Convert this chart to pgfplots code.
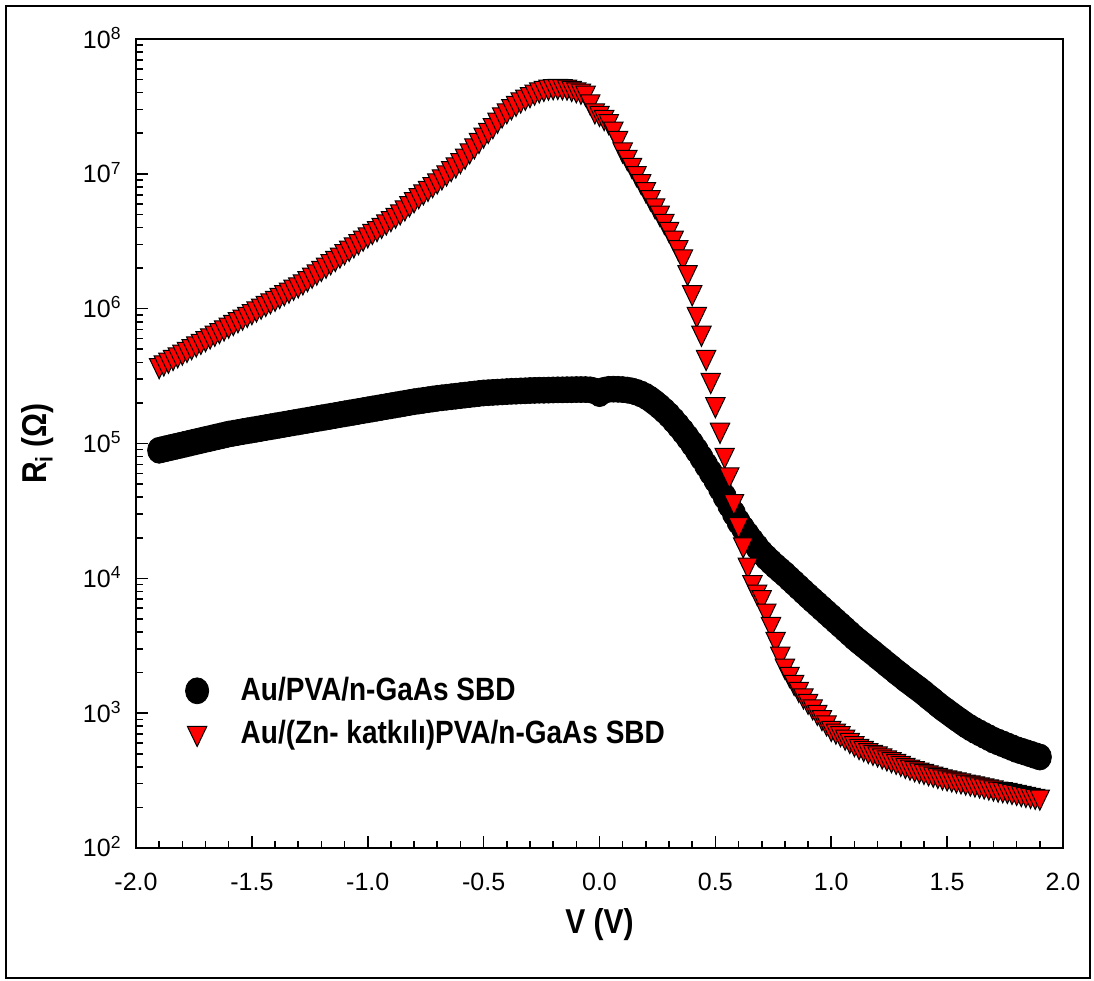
\documentclass[border=0pt]{standalone}
\usepackage{fontspec}
\setmainfont{Liberation Sans}
\usepackage{graphicx}
\usepackage{pgfplots}
\usepackage{pgfplotstable}
\pgfplotsset{compat=1.18}

\newcommand\vs[1]{\scalebox{1}[1.15]{#1}}

% Au/PVA/n-GaAs SBD
\pgfplotstableread{
V R
-1.90 8.91e4
-1.88 9.08e4
-1.86 9.25e4
-1.84 9.42e4
-1.82 9.59e4
-1.80 9.77e4
-1.78 9.95e4
-1.76 1.014e5
-1.74 1.033e5
-1.72 1.052e5
-1.70 1.072e5
-1.68 1.091e5
-1.66 1.112e5
-1.64 1.132e5
-1.62 1.153e5
-1.60 1.175e5
-1.58 1.191e5
-1.56 1.208e5
-1.54 1.225e5
-1.52 1.242e5
-1.50 1.259e5
-1.48 1.276e5
-1.46 1.294e5
-1.44 1.312e5
-1.42 1.330e5
-1.40 1.349e5
-1.38 1.368e5
-1.36 1.387e5
-1.34 1.406e5
-1.32 1.426e5
-1.30 1.445e5
-1.28 1.466e5
-1.26 1.486e5
-1.24 1.507e5
-1.22 1.528e5
-1.20 1.549e5
-1.18 1.570e5
-1.16 1.592e5
-1.14 1.614e5
-1.12 1.637e5
-1.10 1.660e5
-1.08 1.683e5
-1.06 1.706e5
-1.04 1.730e5
-1.02 1.754e5
-1.00 1.778e5
-0.98 1.803e5
-0.96 1.828e5
-0.94 1.854e5
-0.92 1.879e5
-0.90 1.905e5
-0.88 1.932e5
-0.86 1.959e5
-0.84 1.986e5
-0.82 2.014e5
-0.80 2.042e5
-0.78 2.065e5
-0.76 2.089e5
-0.74 2.113e5
-0.72 2.138e5
-0.70 2.163e5
-0.68 2.183e5
-0.66 2.203e5
-0.64 2.223e5
-0.62 2.244e5
-0.60 2.265e5
-0.58 2.286e5
-0.56 2.307e5
-0.54 2.328e5
-0.52 2.350e5
-0.50 2.371e5
-0.48 2.382e5
-0.46 2.393e5
-0.44 2.404e5
-0.42 2.415e5
-0.40 2.427e5
-0.38 2.438e5
-0.36 2.443e5
-0.34 2.455e5
-0.32 2.460e5
-0.30 2.472e5
-0.28 2.477e5
-0.26 2.483e5
-0.24 2.483e5
-0.22 2.489e5
-0.20 2.495e5
-0.18 2.500e5
-0.16 2.500e5
-0.14 2.506e5
-0.12 2.506e5
-0.10 2.512e5
-0.08 2.512e5
-0.06 2.512e5
-0.04 2.500e5
-0.02 2.455e5
0.00 2.344e5
0.02 2.483e5
0.04 2.523e5
0.06 2.529e5
0.08 2.523e5
0.10 2.512e5
0.12 2.489e5
0.14 2.455e5
0.16 2.399e5
0.18 2.328e5
0.20 2.239e5
0.22 2.128e5
0.24 2.004e5
0.26 1.879e5
0.28 1.750e5
0.30 1.622e5
0.32 1.486e5
0.34 1.355e5
0.36 1.230e5
0.38 1.109e5
0.40 9.95e4
0.42 8.87e4
0.44 7.85e4
0.46 6.92e4
0.48 6.10e4
0.50 5.37e4
0.52 4.66e4
0.54 4.04e4
0.56 3.50e4
0.58 3.03e4
0.60 2.63e4
0.62 2.34e4
0.64 2.10e4
0.66 1.89e4
0.68 1.71e4
0.70 1.549e4
0.72 1.429e4
0.74 1.324e4
0.76 1.230e4
0.78 1.148e4
0.80 1.072e4
0.82 9.95e3
0.84 9.25e3
0.86 8.59e3
0.88 7.98e3
0.90 7.41e3
0.92 6.90e3
0.94 6.43e3
0.96 5.98e3
0.98 5.57e3
1.00 5.19e3
1.02 4.83e3
1.04 4.50e3
1.06 4.19e3
1.08 3.90e3
1.10 3.63e3
1.12 3.40e3
1.14 3.19e3
1.16 2.99e3
1.18 2.81e3
1.20 2.63e3
1.22 2.47e3
1.24 2.31e3
1.26 2.17e3
1.28 2.03e3
1.30 1.91e3
1.32 1.79e3
1.34 1.69e3
1.36 1.59e3
1.38 1.50e3
1.40 1.41e3
1.42 1.32e3
1.44 1.24e3
1.46 1.16e3
1.48 1.09e3
1.50 1.03e3
1.52 971
1.54 916
1.56 867
1.58 820
1.60 780
1.62 745
1.64 714
1.66 685
1.68 658
1.70 631
1.72 611
1.74 592
1.76 573
1.78 555
1.80 537
1.82 524
1.84 511
1.86 498
1.88 485
1.90 473
}\pvadata

% Au/(Zn- katkili)PVA/n-GaAs SBD
\pgfplotstableread{
V R
-1.90 3.80e5
-1.88 3.98e5
-1.86 4.17e5
-1.84 4.37e5
-1.82 4.57e5
-1.80 4.79e5
-1.78 5.01e5
-1.76 5.25e5
-1.74 5.50e5
-1.72 5.75e5
-1.70 6.03e5
-1.68 6.31e5
-1.66 6.61e5
-1.64 6.92e5
-1.62 7.24e5
-1.60 7.59e5
-1.58 7.94e5
-1.56 8.32e5
-1.54 8.71e5
-1.52 9.12e5
-1.50 9.55e5
-1.48 1.00e6
-1.46 1.05e6
-1.44 1.10e6
-1.42 1.15e6
-1.40 1.20e6
-1.38 1.26e6
-1.36 1.32e6
-1.34 1.38e6
-1.32 1.45e6
-1.30 1.51e6
-1.28 1.59e6
-1.26 1.68e6
-1.24 1.78e6
-1.22 1.88e6
-1.20 2.00e6
-1.18 2.11e6
-1.16 2.24e6
-1.14 2.37e6
-1.12 2.51e6
-1.10 2.66e6
-1.08 2.82e6
-1.06 2.99e6
-1.04 3.16e6
-1.02 3.35e6
-1.00 3.55e6
-0.98 3.76e6
-0.96 3.95e6
-0.94 4.17e6
-0.92 4.42e6
-0.90 4.68e6
-0.88 4.95e6
-0.86 5.25e6
-0.84 5.62e6
-0.82 6.03e6
-0.80 6.46e6
-0.78 6.92e6
-0.76 7.38e6
-0.74 7.85e6
-0.72 8.36e6
-0.70 8.91e6
-0.68 9.55e6
-0.66 1.02e7
-0.64 1.10e7
-0.62 1.17e7
-0.60 1.26e7
-0.58 1.36e7
-0.56 1.49e7
-0.54 1.62e7
-0.52 1.78e7
-0.50 1.95e7
-0.48 2.11e7
-0.46 2.29e7
-0.44 2.51e7
-0.42 2.75e7
-0.40 2.95e7
-0.38 3.16e7
-0.36 3.35e7
-0.34 3.55e7
-0.32 3.72e7
-0.30 3.89e7
-0.28 4.06e7
-0.26 4.22e7
-0.24 4.32e7
-0.22 4.42e7
-0.20 4.45e7
-0.18 4.47e7
-0.16 4.45e7
-0.14 4.42e7
-0.12 4.32e7
-0.10 4.22e7
-0.08 4.12e7
-0.06 3.98e7
-0.04 3.43e7
-0.02 2.95e7
0.00 2.82e7
0.02 2.63e7
0.04 2.45e7
0.06 2.16e7
0.08 1.84e7
0.10 1.51e7
0.12 1.33e7
0.14 1.16e7
0.16 1.01e7
0.18 8.81e6
0.20 7.67e6
0.22 6.68e6
0.24 5.82e6
0.26 5.13e6
0.28 4.47e6
0.30 3.89e6
0.32 3.35e6
0.34 2.85e6
0.36 2.43e6
0.38 1.86e6
0.40 1.32e6
0.42 9.12e5
0.44 6.61e5
0.46 4.37e5
0.48 2.95e5
0.50 1.95e5
0.52 1.26e5
0.54 8.22e4
0.56 5.89e4
0.58 3.72e4
0.60 2.51e4
0.62 1.78e4
0.64 1.26e4
0.66 9.33e3
0.68 7.94e3
0.70 7.24e3
0.72 5.75e3
0.74 4.57e3
0.76 3.55e3
0.78 2.75e3
0.80 2.24e3
0.82 1.95e3
0.84 1.70e3
0.86 1.51e3
0.88 1.35e3
0.90 1.23e3
0.92 1.12e3
0.94 1.02e3
0.96 933
0.98 851
1.00 776
1.02 741
1.04 708
1.06 668
1.08 631
1.10 598
1.12 569
1.14 550
1.16 531
1.18 515
1.20 501
1.22 484
1.24 468
1.26 454
1.28 442
1.30 427
1.32 412
1.34 400
1.36 389
1.38 380
1.40 372
1.42 363
1.44 355
1.46 347
1.48 339
1.50 333
1.52 327
1.54 321
1.56 316
1.58 310
1.60 305
1.62 300
1.64 295
1.66 290
1.68 285
1.70 280
1.72 275
1.74 272
1.76 269
1.78 264
1.80 260
1.82 255
1.84 251
1.86 247
1.88 243
1.90 240
}\zndata

\begin{document}
\begin{tikzpicture}
\begin{axis}[
    at={(0,0)}, anchor=south west,
    scale only axis,
    width=463.5pt, height=404.5pt,
    xmin=-2, xmax=2,
    ymode=log, log basis y=10,
    ymin=1e2, ymax=1e8,
    axis line style={line width=1pt},
    tick align=inside,
    xtick pos=bottom, ytick pos=left,
    tick style={black, line width=0.8pt},
    major tick length=6pt, minor tick length=3.5pt,
    xtick={-2,-1.5,...,2},
    xticklabels={-2.0,-1.5,-1.0,-0.5,0.0,0.5,1.0,1.5,2.0},
    minor x tick num=4,
    ytick={1e2,1e3,1e4,1e5,1e6,1e7,1e8},
    yticklabels={10\textsuperscript{2},10\textsuperscript{3},10\textsuperscript{4},10\textsuperscript{5},10\textsuperscript{6},10\textsuperscript{7},10\textsuperscript{8}},
    minor ytick={200,300,400,500,600,700,800,900,2000,3000,4000,5000,6000,7000,8000,9000,2e4,3e4,4e4,5e4,6e4,7e4,8e4,9e4,2e5,3e5,4e5,5e5,6e5,7e5,8e5,9e5,2e6,3e6,4e6,5e6,6e6,7e6,8e6,9e6,2e7,3e7,4e7,5e7,6e7,7e7,8e7,9e7},
    xticklabel style={font=\fontsize{12.5}{14}\selectfont, yshift=-9pt},
    yticklabel style={font=\fontsize{12.5}{14}\selectfont, anchor=base east, xshift=-3.7pt, yshift=-4.5pt},
    xlabel={\vs{V (V)}},
    ylabel={\vs{R\textsubscript{i} (Ω)}},
    every axis x label/.style={at={(axis description cs:0.5,-0.0952)}, anchor=center,
        font=\fontsize{15}{18}\selectfont\bfseries},
    every axis y label/.style={at={(axis description cs:-0.106,0.5)}, rotate=90, anchor=center,
        font=\fontsize{15}{18}\selectfont\bfseries},
    legend cell align=left,
    legend style={at={(axis description cs:0.053,0.216)}, anchor=north west,
        draw=none, fill=none, inner sep=0pt, row sep=4pt, column sep=14pt,
        font=\fontsize{14}{17}\selectfont\bfseries},
]
\addplot[only marks, mark=*, mark size=5.8pt,
    mark options={yscale=1.12, fill=black, draw=black}]
    table[x=V, y=R] {\pvadata};
\addplot[only marks, mark=triangle*, mark size=5.6pt,
    mark options={rotate=180, yscale=1.2, fill=red, draw=black, line width=0.5pt}]
    table[x=V, y=R] {\zndata};
\legend{{\vs{Au/PVA/n-GaAs SBD}}, {\vs{Au/(Zn- katkılı)PVA/n-GaAs SBD}}}
\end{axis}
\draw[line width=1pt] (-65pt,-65pt) rectangle (477pt,421pt);
\path (-68pt,-66.5pt) rectangle (479pt,424pt);
\end{tikzpicture}
\end{document}
